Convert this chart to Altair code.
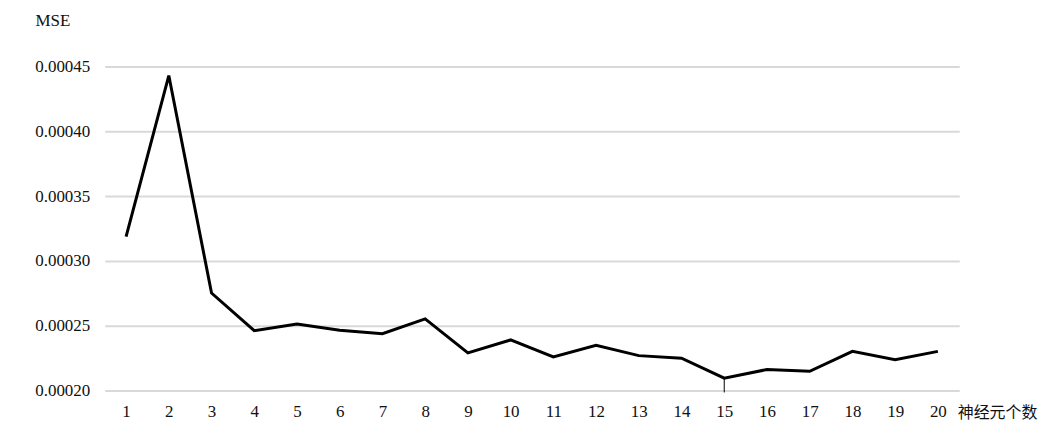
import altair as alt
import pandas as pd

neurons = list(range(1, 21))
mse = [0.0003187, 0.000443, 0.0002752, 0.0002462, 0.0002513, 0.0002465, 0.0002438,
       0.0002552, 0.000229, 0.000239, 0.0002259, 0.0002349, 0.0002269, 0.0002249,
       0.0002095, 0.0002162, 0.0002148, 0.0002302, 0.0002238, 0.0002302]

marker_x = [15]
marker_y1 = [0.0002095]
marker_y2 = [0.0001985]

df = pd.DataFrame({"n": neurons, "mse": mse})
mk = pd.DataFrame({"n": marker_x, "y1": marker_y1, "y2": marker_y2})

FONT = "Liberation Serif"
xscale = alt.Scale(type="point", domain=neurons, padding=0.5)

x = alt.X("n:O", scale=xscale,
          axis=alt.Axis(title="神经元个数", labelAngle=0, domain=False, ticks=False,
                        grid=False, labelPadding=13, labelFontSize=17, labelFont=FONT,
                        labelColor="#111111",
                        titleFont="Noto Sans CJK SC", titleFontSize=16, titleFontWeight="normal",
                        titleColor="#111111", titleAlign="left", titleAnchor="start",
                        titleX=855, titleY=22, titleBaseline="middle"))
y = alt.Y("mse:Q", scale=alt.Scale(domain=[0.0002, 0.00045], nice=False, zero=False),
          axis=alt.Axis(title="MSE", values=[0.0002, 0.00025, 0.0003, 0.00035, 0.0004, 0.00045],
                        format=".5f", domain=False, ticks=False, labelPadding=15,
                        labelFontSize=17, labelFont=FONT, labelColor="#111111",
                        gridColor="#d9d9d9", gridWidth=2,
                        titleFont=FONT, titleFontSize=17, titleFontWeight="normal",
                        titleColor="#111111", titleAngle=0, titleAlign="left",
                        titleX=-70, titleY=-46, titleBaseline="middle"))

line = alt.Chart(df).mark_line(color="#000000", strokeWidth=3, strokeJoin="miter").encode(x=x, y=y)

rule = alt.Chart(mk).mark_rule(color="#000000", strokeWidth=1).encode(
    x=alt.X("n:O", scale=xscale),
    y=alt.Y("y1:Q"), y2="y2:Q")

chart = alt.layer(line, rule).properties(
    width=857, height=325,
    background="#ffffff",
    autosize=alt.AutoSizeParams(type="none"),
    padding={"left": 97, "top": 58, "right": 80, "bottom": 40},
).configure_view(stroke=None)

chart.save("out.html", embed_options={"renderer": "svg", "actions": False})
